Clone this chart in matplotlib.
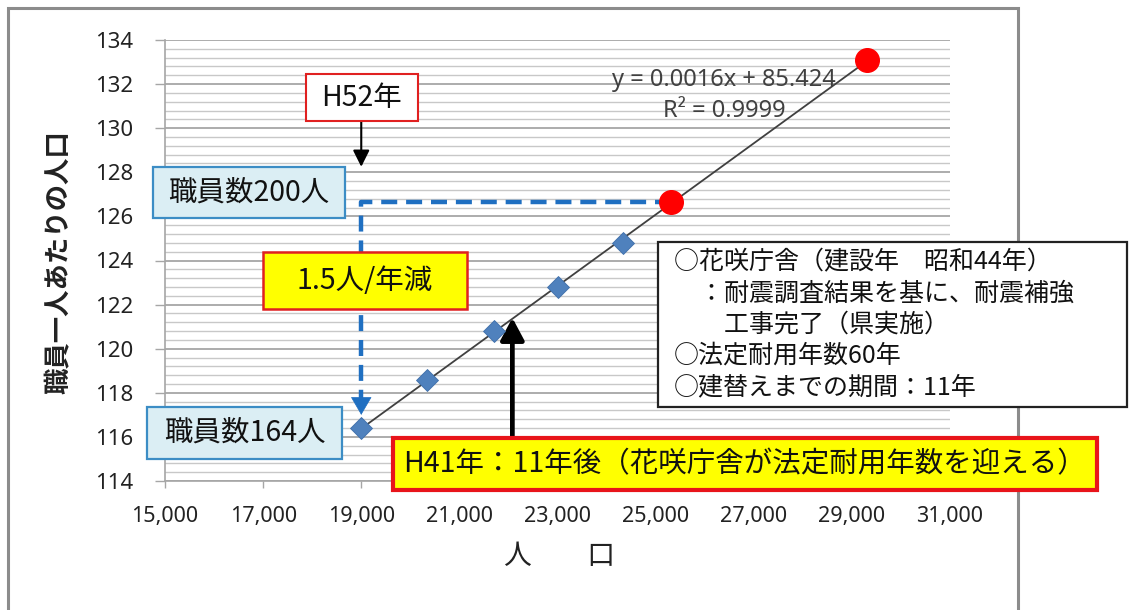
import numpy as np
import matplotlib
matplotlib.use("Agg")
import matplotlib.pyplot as plt
import matplotlib.patches as mpatches
from matplotlib.ticker import MultipleLocator, FixedLocator, FuncFormatter

plt.rcParams["font.family"] = ["Noto Sans CJK JP", "DejaVu Sans"]

W, H = 1133, 610

# population vs. residents per staff member (actual)
pop = [19000, 20350, 21700, 23000, 24330]
per_staff = [116.4, 118.6, 120.8, 122.8, 124.8]
# points read back from the trend (164 staff now / 200 staff in H52)
proj_pop = [25320, 29300]
proj_per_staff = [126.65, 133.1]

x_ticks = [15000, 17000, 19000, 21000, 23000, 25000, 27000, 29000, 31000]
y_ticks = [114, 116, 118, 120, 122, 124, 126, 128, 130, 132, 134]

eq_label = "y = 0.0016x + 85.424"
r2_label = "R² = 0.9999"

info_lines = [
    "○花咲庁舎（建設年　昭和44年）",
    "　：耐震調査結果を基に、耐震補強",
    "　　工事完了（県実施）",
    "○法定耐用年数60年",
    "○建替えまでの期間：11年",
]

BLUE = "#1F6FC1"
DIAMOND = "#4F81BD"
RED = "#FF0000"
GRAY = "#A6A6A6"


def fx(px):
    return px / W


def fy(py):
    return 1 - py / H


def label_box(fig, x0, y0, x1, y1, text, face, edge, lw, size):
    rect = mpatches.Rectangle((fx(x0), fy(y1)), (x1 - x0) / W, (y1 - y0) / H,
                              transform=fig.transFigure, facecolor=face,
                              edgecolor=edge, linewidth=lw, zorder=5)
    fig.add_artist(rect)
    fig.text(fx((x0 + x1) / 2), fy((y0 + y1) / 2), text, ha="center",
             va="center", fontsize=size, color="#111111", zorder=6)


fig = plt.figure(figsize=(W / 100, H / 100), dpi=100)

# outer chart frame
fig.add_artist(mpatches.Rectangle((fx(8), fy(640)), (1018 - 8) / W, 632 / H,
                                  transform=fig.transFigure, fill=False,
                                  edgecolor="#8C8C8C", linewidth=2.2, zorder=1))

ax = fig.add_axes([fx(165), fy(481), (950 - 165) / W, (481 - 40) / H])
ax.set_xlim(x_ticks[0], x_ticks[-1])
ax.set_ylim(y_ticks[0], y_ticks[-1])

ax.yaxis.set_major_locator(FixedLocator(y_ticks))
ax.yaxis.set_minor_locator(MultipleLocator(0.4))
ax.xaxis.set_major_locator(FixedLocator(x_ticks))
ax.xaxis.set_major_formatter(FuncFormatter(lambda v, _: f"{int(v):,}"))

ax.grid(which="major", axis="y", color=GRAY, linewidth=1.3)
ax.grid(which="minor", axis="y", color="#C8C8C8", linewidth=1.0)
ax.set_axisbelow(True)
for side in ("top", "right"):
    ax.spines[side].set_visible(False)
for side in ("left", "bottom"):
    ax.spines[side].set_color(GRAY)
    ax.spines[side].set_linewidth(1.2)

ax.tick_params(axis="y", which="major", length=7, width=1, color=GRAY, pad=16)
ax.tick_params(axis="y", which="minor", length=0)
ax.tick_params(axis="x", which="major", length=5, width=1, color=GRAY, pad=13)
for t in ax.get_yticklabels():
    t.set_family("Noto Sans")
    t.set_fontsize(16)
    t.set_color("#222222")
for t in ax.get_xticklabels():
    t.set_family("Noto Sans")
    t.set_fontsize(15.5)
    t.set_color("#222222")

# linear trend through all points
all_x = np.array(pop + proj_pop, dtype=float)
all_y = np.array(per_staff + proj_per_staff, dtype=float)
slope, icpt = np.polyfit(all_x, all_y, 1)
tx = np.array([all_x.min(), all_x.max()])
ax.plot(tx, slope * tx + icpt, color="#404040", linewidth=1.3, zorder=3)

ax.plot(pop, per_staff, linestyle="none", marker="D", markersize=11,
        color=DIAMOND, markeredgecolor="#3F6FAA", markeredgewidth=0.6, zorder=4)
ax.plot(proj_pop, proj_per_staff, linestyle="none", marker="o", markersize=17,
        color=RED, zorder=4)

# dashed guide: 200 staff level back down to the current point
x0 = pop[0]
tip_y = per_staff[0] + 0.6
ax.plot([proj_pop[0], x0, x0], [proj_per_staff[0], proj_per_staff[0], tip_y + 0.75],
        color=BLUE, linewidth=3.2, linestyle=(0, (3.6, 2.0)), zorder=3,
        solid_capstyle="butt", dash_capstyle="butt")
ax.annotate("", xy=(x0, tip_y), xytext=(x0, tip_y + 0.75),
            arrowprops=dict(arrowstyle="-|>,head_length=0.6,head_width=0.35",
                            mutation_scale=20, color=BLUE, lw=0.5,
                            shrinkA=0, shrinkB=0), zorder=3)

# arrow from the H52 label
ax.annotate("", xy=(x0, 128.25), xytext=(x0, 130.35),
            arrowprops=dict(arrowstyle="-|>,head_length=0.5,head_width=0.25",
                            mutation_scale=20, color="black", lw=1.5,
                            shrinkA=0, shrinkB=0), annotation_clip=False)

# arrow from the H41 label up to the trend line
ax.annotate("", xy=(22080, 121.4), xytext=(22080, 115.9),
            arrowprops=dict(arrowstyle="-|>,head_length=0.75,head_width=0.4",
                            mutation_scale=18, color="black", lw=3.4,
                            shrinkA=0, shrinkB=0), annotation_clip=False)

fig.text(fx(724), fy(80), eq_label, ha="center", va="center", fontsize=17,
         color="#404040", family="Noto Sans")
fig.text(fx(724), fy(111), r2_label, ha="center", va="center", fontsize=17,
         color="#404040", family="Noto Sans")

label_box(fig, 306, 74, 418, 121, "H52年", "white", "#E02020", 1.5, 20.5)
label_box(fig, 153, 167, 345, 218, "職員数200人", "#DBEEF4", "#3C8DC5", 1.6, 20.5)
label_box(fig, 263, 252, 467, 309, "1.5人/年減", "#FFFF00", "#E02020", 1.8, 20.5)
label_box(fig, 147, 407, 342, 459, "職員数164人", "#DBEEF4", "#3C8DC5", 1.6, 20.5)
label_box(fig, 393, 438, 1097, 490, "H41年：11年後（花咲庁舎が法定耐用年数を迎える）",
          "#FFFF00", "#E8141A", 3.0, 20.5)

# information box
fig.add_artist(mpatches.Rectangle((fx(658), fy(407)), (1127 - 658) / W, (407 - 242) / H,
                                  transform=fig.transFigure, facecolor="white",
                                  edgecolor="#222222", linewidth=1.6, zorder=5))
for i, line in enumerate(info_lines):
    fig.text(fx(674), fy(262 + 31.3 * i), line, ha="left", va="center",
             fontsize=18, color="#111111", zorder=6)

fig.text(fx(59), fy(262), "職員一人あたりの人口", rotation=90, ha="center",
         va="center", fontsize=19, fontweight="bold", color="#222222")
fig.text(fx(559), fy(556), "人　　口", ha="center", va="center", fontsize=20,
         color="#222222")

fig.savefig("out.png", dpi=100)
